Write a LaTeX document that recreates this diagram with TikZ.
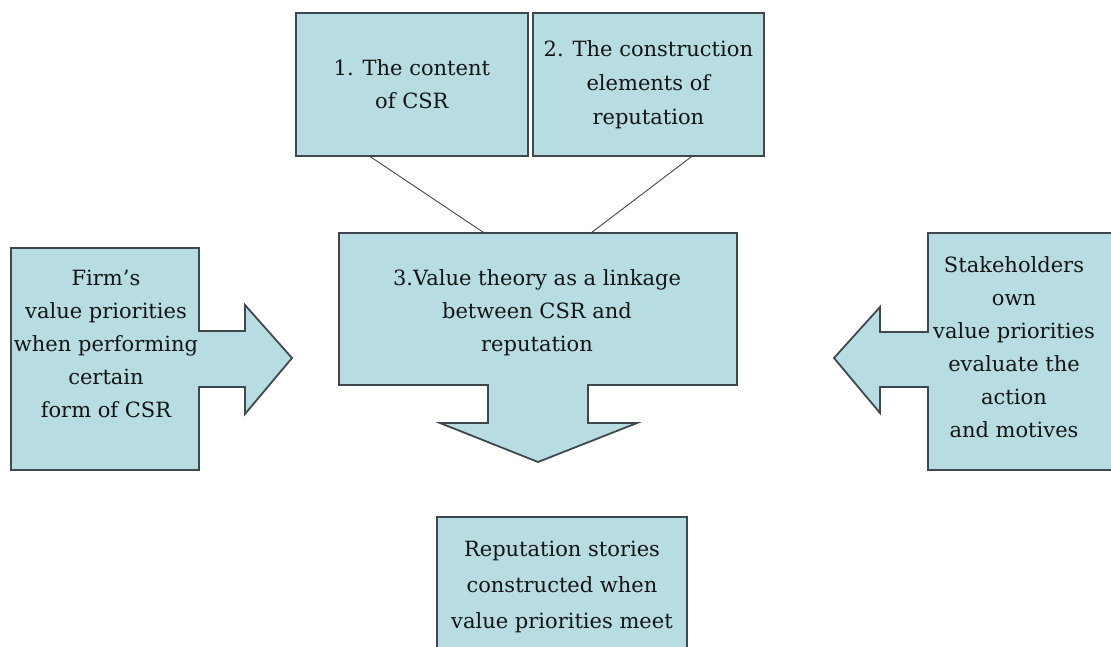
\documentclass[tikz,border=0pt]{standalone}
\usepackage{fontspec}
\setmainfont{DejaVu Serif}
\usetikzlibrary{calc}
\definecolor{boxfill}{RGB}{183,221,226}
\definecolor{edge}{RGB}{62,72,78}
\definecolor{ink}{RGB}{20,20,20}
\begin{document}
\begin{tikzpicture}[x=1pt,y=-1pt,
  panel/.style={fill=boxfill, draw=edge, line width=1.8pt, line join=miter},
  lbl/.style={align=center, text=ink, inner sep=0pt,
              font=\fontsize{21}{33}\selectfont},
  link/.style={draw=edge, line width=0.9pt}]
\useasboundingbox (0,0) rectangle (1111,646);

% top boxes
\node[panel, anchor=north west, minimum width=232pt, minimum height=143pt,
      inner sep=0pt, align=center, text=ink, font=\fontsize{21}{33}\selectfont]
      (b1) at (295,12) {1. The content\\of CSR};
\node[panel, anchor=north west, minimum width=231pt, minimum height=143pt,
      inner sep=0pt, align=center, text=ink, font=\fontsize{21}{34}\selectfont]
      (b2) at (532,12) {2. The construction\\elements of\\reputation};

% central box with its downward arrow
\draw[panel] (339,233) -- (737,233) -- (737,385) -- (588,385) -- (588,423)
  -- (637,423) -- (538,462) -- (440,423) -- (488,423) -- (488,385)
  -- (339,385) -- cycle;
\node[lbl, minimum width=398pt, minimum height=160pt] (b3) at (537,313)
  {3.Value theory as a linkage\\between CSR and\\reputation};

% connectors from the top boxes
\draw[link] ($(b1.south west)!0.323!(b1.south east)$) -- ($(b3.north west)!0.367!(b3.north east)$);
\draw[link] ($(b2.south west)!0.684!(b2.south east)$) -- ($(b3.north west)!0.636!(b3.north east)$);

% left box with right-pointing arrow
\draw[panel] (11,248) -- (199,248) -- (199,331) -- (245,331) -- (245,305)
  -- (292,358) -- (245,414) -- (245,387) -- (199,387) -- (199,470)
  -- (11,470) -- cycle;
\node[lbl] (left) at (106,344)
  {Firm's\\value priorities\\when performing\\certain\\form of CSR};

% right box with left-pointing arrow
\draw[panel] (1125,233) -- (928,233) -- (928,332) -- (880,332) -- (880,307)
  -- (834,358) -- (880,413) -- (880,387) -- (928,387) -- (928,470)
  -- (1125,470) -- cycle;
\node[lbl] (right) at (1014,347)
  {Stakeholders\\own\\value priorities\\evaluate the\\action\\and motives};

% bottom box
\draw[panel] (437,660) -- (437,517) -- (687,517) -- (687,660);
\node[lbl, font=\fontsize{21}{36}\selectfont] (bottom) at (562,587)
  {Reputation stories\\constructed when\\value priorities meet};
\end{tikzpicture}
\end{document}
